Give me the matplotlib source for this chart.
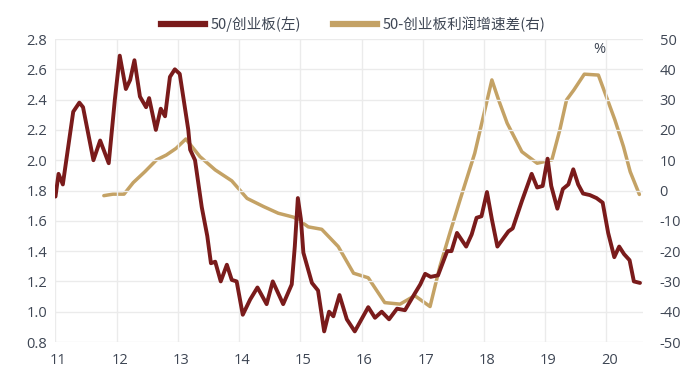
import matplotlib.pyplot as plt
from matplotlib.lines import Line2D
import matplotlib.transforms as mtransforms

plt.rcParams['font.family'] = ['Noto Sans CJK SC', 'DejaVu Sans']

# 50/创业板 ratio (left axis), x in years (20xx)
red_x = [11.00, 11.05, 11.12, 11.29, 11.39, 11.45, 11.62, 11.73, 11.87, 11.97,
         12.05, 12.15, 12.22, 12.29, 12.38, 12.48, 12.53, 12.64, 12.72, 12.79,
         12.87, 12.95, 13.03, 13.17, 13.20, 13.28, 13.39, 13.48, 13.54, 13.61,
         13.70, 13.80, 13.88, 13.96, 14.06, 14.18, 14.30, 14.45, 14.55, 14.72,
         14.86, 14.91, 14.96, 15.01, 15.05, 15.19, 15.29, 15.39, 15.47, 15.54,
         15.64, 15.76, 15.89, 16.00, 16.11, 16.22, 16.33, 16.45, 16.58, 16.71,
         16.87, 16.96, 17.04, 17.13, 17.25, 17.40, 17.47, 17.56, 17.71, 17.80,
         17.88, 17.96, 18.05, 18.13, 18.22, 18.40, 18.47, 18.62, 18.78, 18.87,
         18.96, 19.04, 19.10, 19.20, 19.29, 19.38, 19.46, 19.54, 19.62, 19.73,
         19.84, 19.94, 20.03, 20.13, 20.21, 20.29, 20.38, 20.45, 20.55]
red_v = [1.76, 1.91, 1.84, 2.32, 2.38, 2.35, 2.00, 2.13, 1.98, 2.40,
         2.69, 2.47, 2.53, 2.66, 2.42, 2.35, 2.41, 2.20, 2.34, 2.29,
         2.55, 2.60, 2.57, 2.20, 2.07, 2.00, 1.69, 1.50, 1.32, 1.33,
         1.20, 1.31, 1.21, 1.20, 0.98, 1.08, 1.16, 1.05, 1.20, 1.05,
         1.18, 1.43, 1.75, 1.61, 1.39, 1.19, 1.14, 0.87, 1.00, 0.97,
         1.11, 0.95, 0.87, 0.95, 1.03, 0.96, 1.00, 0.95, 1.02, 1.01,
         1.12, 1.18, 1.25, 1.23, 1.24, 1.40, 1.40, 1.52, 1.43, 1.51,
         1.62, 1.63, 1.79, 1.61, 1.43, 1.53, 1.55, 1.73, 1.91, 1.82,
         1.83, 2.01, 1.83, 1.68, 1.81, 1.84, 1.94, 1.84, 1.78, 1.77,
         1.75, 1.72, 1.52, 1.36, 1.43, 1.38, 1.34, 1.20, 1.19]

# 50-创业板利润增速差 (right axis, %)
tan_x = [11.79, 11.94, 12.12, 12.27, 12.46, 12.65, 12.81, 12.97, 13.13, 13.36,
         13.61, 13.88, 14.13, 14.40, 14.64, 14.89, 15.00, 15.13, 15.35, 15.62,
         15.87, 16.11, 16.38, 16.63, 16.87, 17.12, 17.28, 17.45, 17.61, 17.85,
         17.99, 18.13, 18.24, 18.38, 18.62, 18.87, 19.11, 19.24, 19.35, 19.47,
         19.64, 19.87, 20.00, 20.14, 20.28, 20.39, 20.54]
tan_v = [-1.7, -1.2, -1.2, 2.6, 6.2, 10.1, 11.7, 13.9, 17.0, 11.2,
         6.8, 3.2, -2.6, -5.3, -7.5, -8.8, -10.1, -12.0, -12.8, -18.5,
         -27.3, -28.8, -37.0, -37.5, -34.7, -38.3, -25.1, -13.6, -3.1, 12.3,
         24.4, 36.5, 29.9, 22.2, 12.8, 9.0, 10.1, 20.0, 29.9, 33.2,
         38.4, 38.1, 31.0, 23.3, 14.5, 6.2, -1.3]

years = list(range(11, 21))
left_ticks = [0.8, 1.0, 1.2, 1.4, 1.6, 1.8, 2.0, 2.2, 2.4, 2.6, 2.8]
right_ticks = list(range(-50, 51, 10))

red = '#7A1B1B'
tan = '#C4A265'
txt = '#3E4654'
grid = '#EBEBEB'

fig = plt.figure(figsize=(6.97, 3.89), dpi=100)
ax = fig.add_axes([0.0796, 0.1208, 0.843, 0.7789])
ax2 = ax.twinx()

ax2.plot(tan_x, tan_v, color=tan, lw=2.5, solid_joinstyle='round', solid_capstyle='round')
ax.plot(red_x, red_v, color=red, lw=2.8, solid_joinstyle='round', solid_capstyle='round')

ax.set_zorder(ax2.get_zorder() + 1)
ax.patch.set_visible(False)

ax.set_xlim(11, 20.6)
ax.set_ylim(0.8, 2.8)
ax2.set_ylim(-50, 50)
ax.set_xticks(years)
ax.set_xticklabels([str(y) for y in years])
ax.set_yticks(left_ticks)
ax.set_yticklabels(['%.1f' % v for v in left_ticks])
ax2.set_yticks(right_ticks)
ax2.set_yticklabels([str(v) for v in right_ticks])

ax.grid(True, color=grid, lw=1)
ax.set_axisbelow(True)
for a in (ax, ax2):
    for s in a.spines.values():
        s.set_visible(False)
    a.tick_params(length=0, labelsize=10.5, colors=txt)
    for lab in a.get_xticklabels() + a.get_yticklabels():
        lab.set_family('Open Sans')
ax.tick_params(axis='x', pad=8)
ax.tick_params(axis='y', pad=6)
ax2.tick_params(axis='y', pad=12)

off = mtransforms.ScaledTranslation(3 / 100, 0, fig.dpi_scale_trans)
for lab in ax.get_xticklabels():
    lab.set_transform(lab.get_transform() + off)

ax.text(0.925, 0.99, '%', transform=ax.transAxes, fontsize=10.5, color=txt,
        ha='center', va='top', family='Open Sans')

handles = [Line2D([], [], color=red, lw=4.5), Line2D([], [], color=tan, lw=4.5)]
fig.legend(handles, ['50/创业板(左)', '50-创业板利润增速差(右)'], loc='center',
           bbox_to_anchor=(0.507, 0.938), ncol=2, frameon=False, fontsize=10.5,
           handlelength=3.0, handletextpad=0.4, columnspacing=2.2, labelcolor=txt)

fig.savefig('out.png', dpi=100)
